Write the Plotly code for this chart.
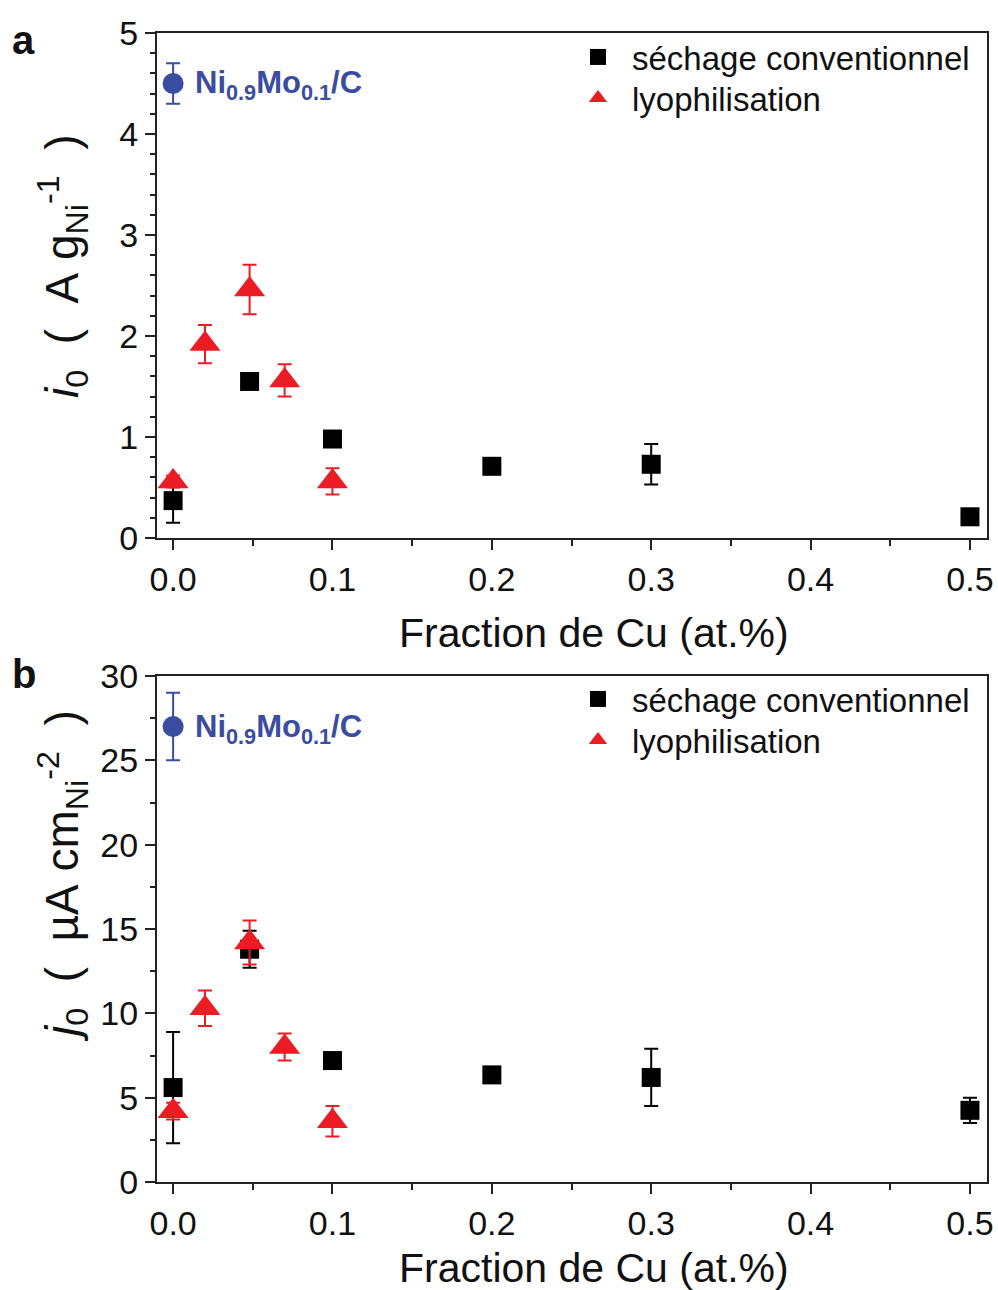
import plotly.graph_objects as go

# ---------------- data ----------------
conv_x = [0.0, 0.048, 0.1, 0.2, 0.3, 0.5]
conv_i0 = [0.37, 1.55, 0.98, 0.71, 0.73, 0.21]
conv_i0_err = [0.22, 0.06, 0.04, 0.04, 0.20, 0.03]
conv_j0 = [5.6, 13.8, 7.2, 6.35, 6.2, 4.25]
conv_j0_err = [3.3, 1.1, 0.3, 0.3, 1.7, 0.75]

lyo_x = [0.0, 0.02, 0.048, 0.07, 0.1]
lyo_i0 = [0.56, 1.92, 2.46, 1.56, 0.56]
lyo_i0_err = [0.06, 0.19, 0.245, 0.16, 0.13]
lyo_j0 = [4.2, 10.3, 14.2, 8.0, 3.6]
lyo_j0_err = [0.5, 1.05, 1.3, 0.8, 0.9]

ref_x = [0.0]
ref_i0 = [4.5]
ref_i0_err = [0.2]
ref_j0 = [27.0]
ref_j0_err = [2.0]

conv_name = "séchage conventionnel"
lyo_name = "lyophilisation"
ref_label = "Ni<sub>0.9</sub>Mo<sub>0.1</sub>/C"
x_title = "Fraction de Cu (at.%)"
S = "\u00a0"
ya_title = "<i>i</i><sub>0</sub>" + S * 2 + "(" + S * 2 + "A" + S + "g<sub>Ni</sub><sup>-1</sup>" + S * 2 + ")"
yb_title = "<i>j</i><sub>0</sub>" + S * 2 + "(" + S * 2 + "µA" + S + "cm<sub>Ni</sub><sup>-2</sup>" + S * 2 + ")"

FONT = "Liberation Sans, Arial, sans-serif"
BLACK = "#000000"
RED = "#ec1c24"
BLUE = "#3a4da0"
TXT = "#111111"

W, H = 998, 1290
def px(x):
    return x / W
def py(y):
    return 1 - y / H

fig = go.Figure()

def add_panel(xa, ya, conv_y, conv_e, lyo_y, lyo_e, ref_y, ref_e, leg_conv, leg_lyo):
    fig.add_trace(go.Scatter(
        x=ref_x, y=ref_y, mode="markers", xaxis=xa, yaxis=ya, showlegend=False,
        marker=dict(symbol="circle", size=21, color=BLUE),
        error_y=dict(type="data", array=ref_e, color=BLUE, thickness=2, width=7)))
    fig.add_trace(go.Scatter(
        x=conv_x, y=conv_y, mode="markers", xaxis=xa, yaxis=ya, name=conv_name,
        legend=leg_conv,
        marker=dict(symbol="square", size=19, color=BLACK),
        error_y=dict(type="data", array=conv_e, color=BLACK, thickness=2, width=7)))
    fig.add_trace(go.Scatter(
        x=lyo_x, y=lyo_y, mode="markers", xaxis=xa, yaxis=ya, name=lyo_name,
        legend=leg_lyo,
        marker=dict(symbol="triangle-up", size=27, color=RED),
        error_y=dict(type="data", array=lyo_e, color=RED, thickness=2, width=7)))

add_panel("x", "y", conv_i0, conv_i0_err, lyo_i0, lyo_i0_err, ref_i0, ref_i0_err, "legend", "legend2")
add_panel("x2", "y2", conv_j0, conv_j0_err, lyo_j0, lyo_j0_err, ref_j0, ref_j0_err, "legend3", "legend4")

xdom = [px(157), px(987)]
axis_common = dict(
    showline=True, linewidth=2, linecolor="#222222", mirror=True,
    ticks="outside", ticklen=10, tickwidth=2, tickcolor="#222222",
    showgrid=False, zeroline=False, automargin=False,
    tickfont=dict(family=FONT, size=34, color=TXT),
)
minor_x = dict(dtick=0.05, ticks="outside", ticklen=6, tickwidth=2, tickcolor="#222222")

def leg(ytop):
    return dict(x=px(564), y=py(ytop), xanchor="left", yanchor="top",
                bgcolor="rgba(0,0,0,0)", borderwidth=0,
                font=dict(family=FONT, size=33, color=TXT),
                itemsizing="trace", tracegroupgap=0, itemwidth=58)

fig.update_layout(
    width=W, height=H,
    margin=dict(l=0, r=0, t=0, b=0, pad=0, autoexpand=False),
    paper_bgcolor="white", plot_bgcolor="white",
    font=dict(family=FONT, color=TXT),
    xaxis=dict(domain=xdom, anchor="y", range=[-0.0101, 0.5107], dtick=0.1,
               tickformat=".1f", minor=minor_x, **axis_common),
    yaxis=dict(domain=[py(538), py(33)], anchor="x", range=[0, 5], dtick=1,
               minor=dict(dtick=0.2, ticks="outside", ticklen=5, tickwidth=2, tickcolor="#222222"),
               **axis_common),
    xaxis2=dict(domain=xdom, anchor="y2", range=[-0.0101, 0.5107], dtick=0.1,
                tickformat=".1f", minor=minor_x, **axis_common),
    yaxis2=dict(domain=[py(1182), py(676)], anchor="x2", range=[0, 30], dtick=5,
                minor=dict(dtick=2.5, ticks="outside", ticklen=5, tickwidth=2, tickcolor="#222222"),
                **axis_common),
    legend=leg(29),
    legend2=leg(70),
    legend3=leg(671),
    legend4=leg(712),
)

ann = []
ann.append(dict(text="<b>a</b>", x=px(10), y=py(40), xref="paper", yref="paper",
                xanchor="left", yanchor="middle", showarrow=False,
                font=dict(family=FONT, size=40, color=TXT)))
ann.append(dict(text="<b>b</b>", x=px(10), y=py(674), xref="paper", yref="paper",
                xanchor="left", yanchor="middle", showarrow=False,
                font=dict(family=FONT, size=40, color=TXT)))
for yc in (633, 1268):
    ann.append(dict(text=x_title, x=px(594), y=py(yc), xref="paper", yref="paper",
                    xanchor="center", yanchor="middle", showarrow=False,
                    font=dict(family=FONT, size=41, color=TXT)))
ann.append(dict(text=ya_title, x=px(62), y=py(266), xref="paper", yref="paper",
                xanchor="center", yanchor="middle", showarrow=False, textangle=-90,
                font=dict(family=FONT, size=46, color=TXT)))
ann.append(dict(text=yb_title, x=px(62), y=py(876), xref="paper", yref="paper",
                xanchor="center", yanchor="middle", showarrow=False, textangle=-90,
                font=dict(family=FONT, size=46, color=TXT)))
ann.append(dict(text="<b>" + ref_label + "</b>", x=ref_x[0], y=ref_i0[0], xref="x", yref="y",
                xanchor="left", yanchor="middle", xshift=20, yshift=-2, showarrow=False,
                font=dict(family=FONT, size=31, color=BLUE)))
ann.append(dict(text="<b>" + ref_label + "</b>", x=ref_x[0], y=ref_j0[0], xref="x2", yref="y2",
                xanchor="left", yanchor="middle", xshift=20, yshift=-2, showarrow=False,
                font=dict(family=FONT, size=31, color=BLUE)))
fig.update_layout(annotations=ann)

# remove the default page margin so the figure fills the window exactly
post = "document.body.style.margin='0px'; document.body.style.overflow='hidden';"
fig.write_html("out.html", post_script=post, config={"displayModeBar": False})
